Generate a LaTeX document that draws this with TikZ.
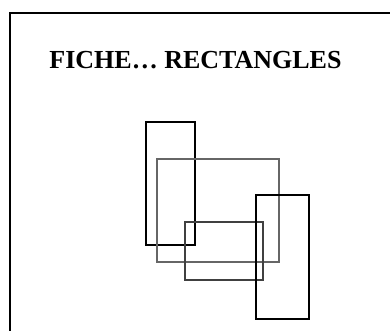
\documentclass[tikz,border=0pt]{standalone}
\usepackage{fontspec}
\setmainfont{Liberation Serif}
\begin{document}
\begin{tikzpicture}[x=1pt,y=-1pt,
  blackbox/.style={draw=black,line width=1.4pt},
  greybox/.style={draw=black!60,line width=1.1pt},
  darkbox/.style={draw=black!75,line width=1.1pt}]
\useasboundingbox (0,0) rectangle (390,331);
\clip (0,0) rectangle (390,331);
\draw[line width=2pt] (10,400) -- (10,13) -- (400,13);
\node[anchor=base,inner sep=0pt,font=\bfseries\fontsize{26}{30}\selectfont] (title) at (195.5,69) {FICHE… RECTANGLES};
\draw[blackbox] (146,122) rectangle (195,245);
\draw[greybox] (157,159) rectangle (279,262);
\draw[darkbox] (185,222) rectangle (263,280);
\draw[blackbox] (256,195) rectangle (309,319);
\end{tikzpicture}
\end{document}
